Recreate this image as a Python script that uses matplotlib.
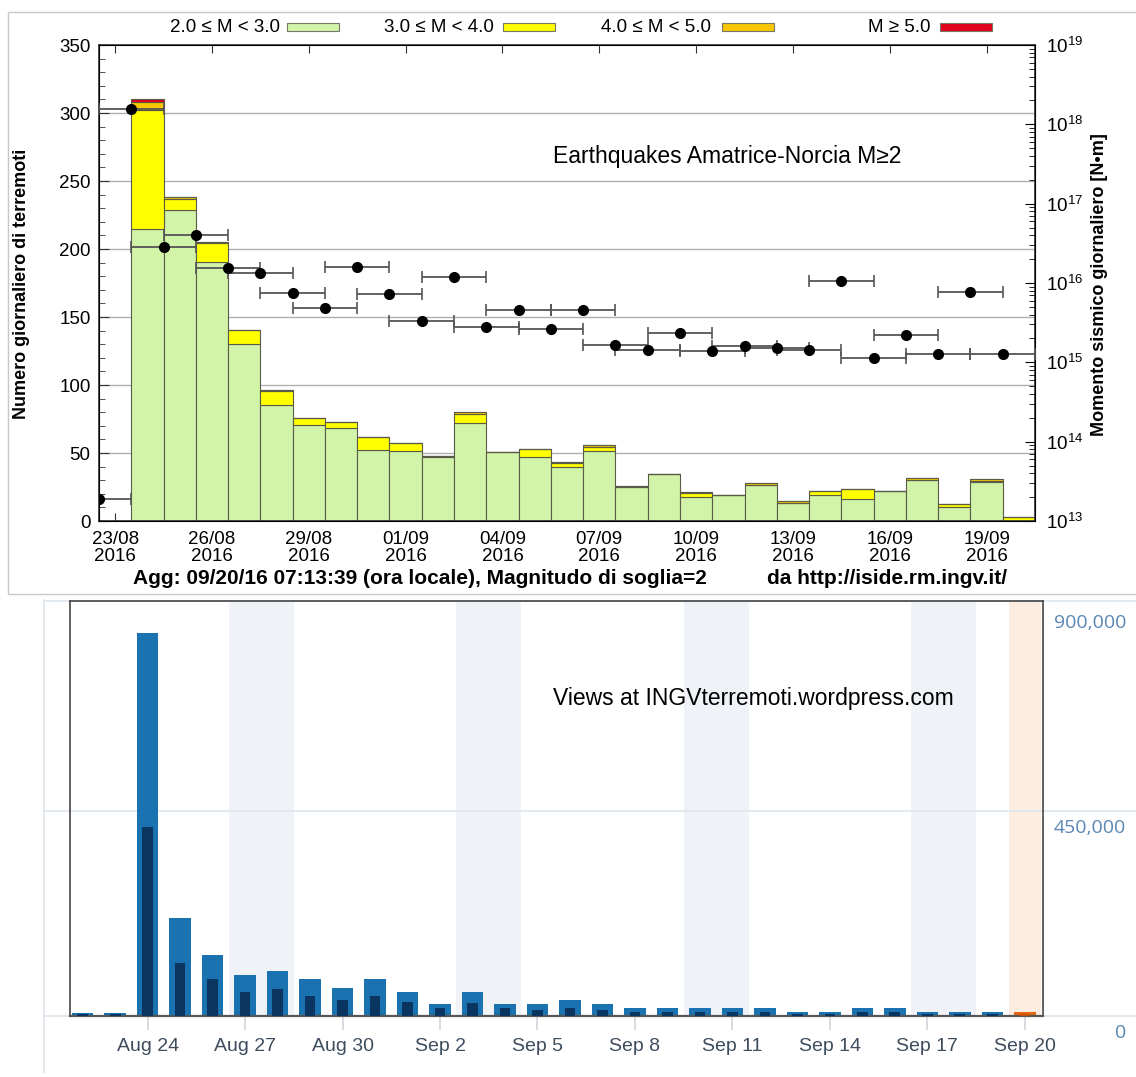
import numpy as np
import matplotlib
matplotlib.use("Agg")
import matplotlib.pyplot as plt
from matplotlib.patches import Rectangle
from matplotlib.lines import Line2D
import matplotlib.transforms as mtransforms

plt.rcParams['font.family'] = ['Liberation Sans', 'DejaVu Sans']

# ---- dati pannello alto: terremoti giornalieri per classe di magnitudo ----
day_labels = ['23/08', '26/08', '29/08', '01/09', '04/09', '07/09', '10/09', '13/09', '16/09', '19/09']
m2_3 = [0, 214.5, 229, 190.7, 130, 85.3, 70.3, 68.6, 52.2, 51.7, 47, 72, 50.7, 47.3, 39.5,
        51.5, 25, 34.3, 17.4, 19.1, 26.5, 13.5, 19.1, 16.2, 22.3, 30.1, 10.5, 28.6, 0]
m3_4 = [0, 87.5, 7.5, 13.9, 10.4, 10.3, 5.2, 4, 9.3, 5.9, 0.8, 6.9, 0, 5.4, 3.4,
        3.2, 0, 0, 3, 0.3, 0, 0, 2.9, 7.3, 0, 0, 1.7, 1, 2.7]
m4_5 = [0, 6, 2, 0.8, 0, 0.5, 0.6, 0, 0, 0, 0, 1.5, 0, 0, 0.6,
        1.4, 0.7, 0, 0.6, 0, 1.2, 1.2, 0, 0, 0, 1.8, 0.5, 1, 0]
m5 = [0, 2, 0, 0, 0, 0, 0, 0, 0, 0, 0, 0, 0, 0, 0,
      0, 0, 0, 0, 0, 0, 0, 0, 0, 0, 0, 0, 0, 0]
# momento sismico giornaliero, esponente in base 10 (N*m)
moment_log10 = [13.28, 18.19, 16.45, 16.61, 16.19, 16.12, 15.88, 15.69, 16.20, 15.86,
                15.52, 16.08, 15.44, 15.66, 15.42, 15.66, 15.22, 15.16, 15.37, 15.14,
                15.20, 15.18, 15.16, 16.03, 15.05, 15.34, 15.11, 15.89, 15.10]

# ---- dati pannello basso: visite giornaliere al blog (22/08 - 20/09) ----
view_ticks = ['Aug 24', 'Aug 27', 'Aug 30', 'Sep 2', 'Sep 5', 'Sep 8', 'Sep 11', 'Sep 14', 'Sep 17', 'Sep 20']
views = [7500, 7500, 840000, 215000, 135000, 89000, 99000, 81000, 61500, 81000,
         53000, 26000, 53000, 26500, 26500, 36000, 26500, 17600, 17600, 17600,
         17600, 17600, 8100, 8100, 17600, 17600, 8800, 8800, 8800, 8800]
visitors = [4000, 4000, 415000, 116500, 80700, 52800, 58700, 44000, 36000, 44000,
            30000, 17000, 29300, 17600, 12500, 17600, 12500, 8800, 8800, 8800,
            8800, 8800, 5100, 5100, 8800, 8800, 5100, 5100, 5100, 5100]
weekends = [(5, 6), (12, 13), (19, 20), (26, 27)]
today = 29

W, H = 1136, 1077
fig = plt.figure(figsize=(W / 100, H / 100), dpi=100)


def fx(px):
    return px / W


def fy(py):
    return 1 - py / H


# cornice del pannello alto
fig.patches.append(Rectangle((fx(8), fy(594)), fx(1140) - fx(8), fy(12) - fy(594),
                             transform=fig.transFigure, fill=False, ec='#c8c8c8', lw=1))

# ================= pannello alto =================
ax1 = fig.add_axes([fx(99), fy(521), (1035 - 99) / W, (521 - 45) / H])
days = np.arange(len(m2_3))
green, yellow, orange, red = '#d2f4a8', '#ffff00', '#f8c700', '#e3001b'
edge = '#5a5a48'
b1 = np.array(m2_3)
b2 = b1 + np.array(m3_4)
b3 = b2 + np.array(m4_5)
ax1.bar(days, m2_3, width=1, color=green, edgecolor=edge, lw=0.8, zorder=2)
ax1.bar(days, m3_4, width=1, bottom=b1, color=yellow, edgecolor=edge, lw=0.8, zorder=2)
ax1.bar(days, m4_5, width=1, bottom=b2, color=orange, edgecolor=edge, lw=0.8, zorder=2)
ax1.bar(days, m5, width=1, bottom=b3, color=red, edgecolor=edge, lw=0.8, zorder=2)

ax1.set_xlim(-0.5, 28.5)
ax1.set_ylim(0, 350)
ax1.set_yticks(np.arange(0, 351, 50))
ax1.set_yticks(np.arange(0, 351, 10), minor=True)
ax1.set_xticks(np.arange(0, 28, 3))
ax1.set_xticklabels([d + '\n2016' for d in day_labels], linespacing=1.05)
for y in range(50, 350, 50):
    ax1.axhline(y, color='#b0b0b0', lw=1, zorder=1)
ax1.tick_params(axis='both', which='both', direction='in', top=True, right=False,
                labelsize=13.5, color='#333333')
ax1.tick_params(axis='y', which='major', length=7, pad=6)
ax1.tick_params(axis='y', which='minor', length=4)
ax1.tick_params(axis='x', which='major', length=6, pad=7)
for s in ax1.spines.values():
    s.set_color('#333333')
    s.set_linewidth(1.2)

ax2 = ax1.twinx()
ax2.set_yscale('log')
ax2.set_ylim(1e13, 1e19)
xm = days - 0.5
ax2.errorbar(xm, 10.0 ** np.array(moment_log10), xerr=1, fmt='o', color='black',
             ecolor='#555555', elinewidth=1.3, capsize=4, capthick=1.2, ms=7, zorder=5)
ax2.tick_params(axis='y', which='major', direction='in', length=7, labelsize=13.5, pad=8)
ax2.tick_params(axis='y', which='minor', direction='in', length=4)

fig.text(fx(22), fy(284), 'Numero giornaliero di terremoti', rotation=90,
         ha='center', va='center', fontsize=13, fontweight='bold')
fig.text(fx(1100), fy(285), 'Momento sismico giornaliero [N•m]', rotation=90,
         ha='center', va='center', fontsize=13, fontweight='bold')
fig.text(fx(727), fy(157), 'Earthquakes Amatrice-Norcia M≥2',
         ha='center', va='center', fontsize=16.5)

# legenda in alto
leg = [('2.0 ≤ M < 3.0', green, 280, 287), ('3.0 ≤ M < 4.0', yellow, 494, 503),
       ('4.0 ≤ M < 5.0', orange, 711, 722), ('M ≥ 5.0', red, 930, 940)]
for lab, col, xt, xs in leg:
    fig.text(fx(xt), fy(27), lab, ha='right', va='center', fontsize=13.5)
    fig.patches.append(Rectangle((fx(xs), fy(31)), 52 / W, 8 / H, transform=fig.transFigure,
                                 fc=col, ec='#777766', lw=0.8))

fig.text(fx(420), fy(578), 'Agg: 09/20/16 07:13:39 (ora locale), Magnitudo di soglia=2',
         ha='center', va='center', fontsize=15, fontweight='bold')
fig.text(fx(887), fy(578), 'da http://iside.rm.ingv.it/',
         ha='center', va='center', fontsize=15, fontweight='bold')

# ================= pannello basso =================
ax3 = fig.add_axes([fx(70), fy(1016), (1043 - 70) / W, (1016 - 601) / H])
vx = np.arange(len(views))
ax3.set_xlim(-0.39, 29.56)
ax3.set_ylim(0, 911000)
for a, b in weekends:
    ax3.axvspan(a - 0.5, b + 0.5, color='#eff3f7', lw=0, zorder=0)
ax3.axvspan(today - 0.5, today + 0.5, color='#fcede0', lw=0, zorder=0)

x0 = (44 - 70) / 973
x1 = (1136 - 70) / 973
ax3.axhline(450000, xmin=x0, xmax=x1, color='#dfe7ef', lw=1.3, clip_on=False, zorder=0.5)
ax3.axhline(911000, xmin=x0, xmax=x1, color='#dfe7ef', lw=1.3, clip_on=False, zorder=0.5)
ax3.axhline(0, xmin=x0, xmax=x1, color='#dfe7ef', lw=1.3, clip_on=False, zorder=0.5)
fig.lines.append(Line2D([fx(44), fx(44)], [fy(600), fy(1072)], transform=fig.transFigure,
                        color='#dfe3e8', lw=1.2))

light = ['#1a72b1'] * len(views)
dark = ['#0a3561'] * len(views)
light[today] = '#e8650f'
dark[today] = '#c2500a'
ax3.bar(vx, views, width=0.66, color=light, zorder=2)
ax3.bar(vx, visitors, width=0.33, color=dark, zorder=3)

ax3.set_xticks(np.arange(2, 30, 3))
ax3.set_xticklabels(view_ticks)
ax3.set_yticks([])
ax3.tick_params(axis='x', direction='out', length=10, color='#cfd6de', width=1.2,
                labelsize=14, labelcolor='#3e4d5e', pad=6)
for side in ['left', 'top', 'right']:
    ax3.spines[side].set_color('#454545')
    ax3.spines[side].set_linewidth(1.2)
ax3.spines['bottom'].set_color('#555555')
ax3.spines['bottom'].set_linewidth(1.6)

off = mtransforms.offset_copy(ax3.get_yaxis_transform(), fig=fig, x=0, y=-17, units='dots')
for val, lab in [(900000, '900,000'), (450000, '450,000'), (0, '0')]:
    ax3.text(1.0853, val, lab, transform=off, ha='right', va='center',
             fontsize=14, color='#5a87b3', family=['Open Sans', 'DejaVu Sans'])

fig.text(fx(753), fy(698), 'Views at INGVterremoti.wordpress.com',
         ha='center', va='center', fontsize=16.5)

fig.savefig('out.png', dpi=100)
